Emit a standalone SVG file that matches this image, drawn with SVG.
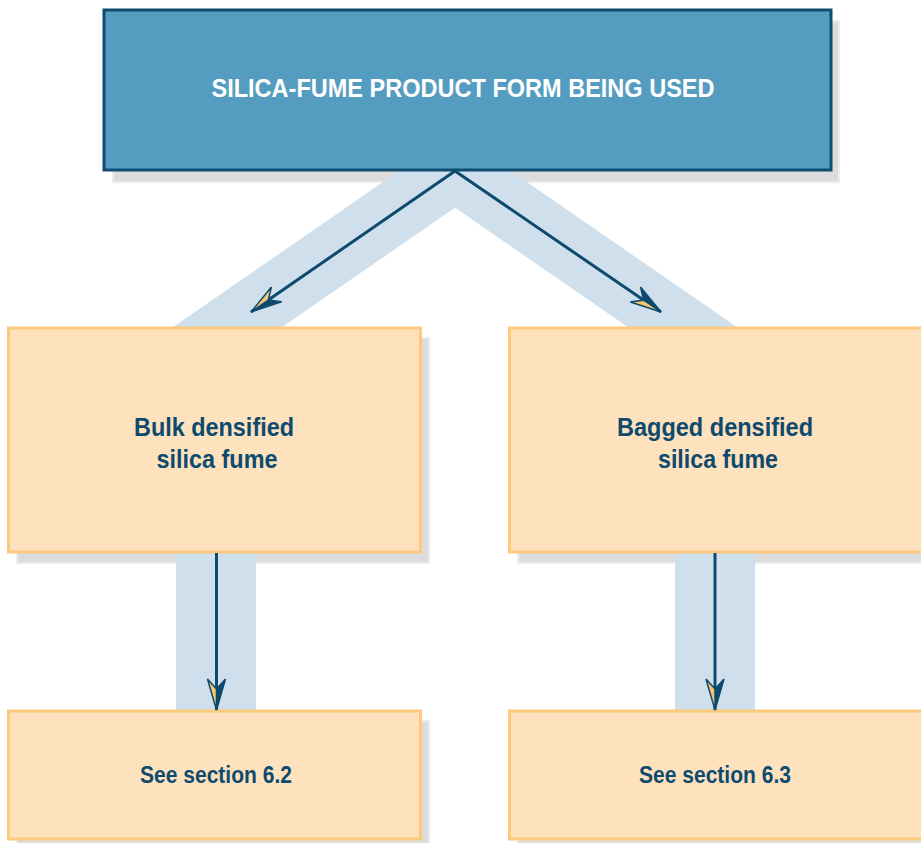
<svg xmlns="http://www.w3.org/2000/svg" width="921" height="843" viewBox="0 0 921 843">
<style>
.shadow{fill:#dcdcdc;stroke:#ececec;stroke-width:2}
.band{fill:none;stroke:#cfe0ec}
.top{fill:#549dc0;stroke:#0e4c70;stroke-width:3}
.box{fill:#fde2bd;stroke:#fdc97c;stroke-width:3}
.t{font-family:"Liberation Sans",Arial,sans-serif;font-weight:bold;text-anchor:middle;fill:#0e4a6e}
.arrow{fill:none;stroke:#0e4a6e;stroke-width:3;marker-end:url(#ah)}
</style>
<defs>
<marker id="ah" markerUnits="userSpaceOnUse" viewBox="-33 -11 35 22" refX="0" refY="0" markerWidth="35" markerHeight="22" orient="auto">
<path d="M0,0 L-31,-9 L-21,0 Z" fill="#0e4a6e" stroke="#0e4a6e" stroke-width="1.5" stroke-linejoin="miter"/>
<path d="M0,0 L-31,9 L-21,0 Z" fill="#f8c66e" stroke="#0e4a6e" stroke-width="1.5" stroke-linejoin="miter"/>
</marker>
</defs>
<rect width="921" height="843" fill="#ffffff"/>
<g id="shadows">
<rect class="shadow" x="113" y="21" width="726" height="161"/>
<rect class="shadow" x="17" y="338" width="412" height="225"/>
<rect class="shadow" x="518" y="338" width="412" height="225"/>
<rect class="shadow" x="17" y="721" width="412" height="128"/>
<rect class="shadow" x="518" y="721" width="412" height="128"/>
</g>
<g id="bands">
<polyline class="band" stroke-width="62" stroke-miterlimit="10" points="122,400 455,170 788,400"/>
<rect x="176" y="550" width="80" height="163" fill="#cfe0ec"/>
<rect x="675" y="550" width="80" height="163" fill="#cfe0ec"/>
</g>
<g id="node-top">
<rect class="top" x="104" y="10" width="727" height="160"/>
<text x="463" y="97" font-family="Liberation Sans, Arial, sans-serif" font-weight="bold" font-size="25" fill="#ffffff" text-anchor="middle" textLength="503" lengthAdjust="spacingAndGlyphs">SILICA-FUME PRODUCT FORM BEING USED</text>
</g>
<g id="node-bulk">
<rect class="box" x="8.5" y="328" width="412" height="224"/>
<text class="t" x="214" y="436" font-size="26" textLength="160" lengthAdjust="spacingAndGlyphs">Bulk densified</text>
<text class="t" x="217" y="468" font-size="26" textLength="121" lengthAdjust="spacingAndGlyphs">silica fume</text>
</g>
<g id="node-bagged">
<rect class="box" x="509.5" y="328" width="414" height="224"/>
<text class="t" x="715" y="436" font-size="26" textLength="196" lengthAdjust="spacingAndGlyphs">Bagged densified</text>
<text class="t" x="718" y="468" font-size="26" textLength="120" lengthAdjust="spacingAndGlyphs">silica fume</text>
</g>
<g id="node-62">
<rect class="box" x="8.5" y="711" width="412" height="128"/>
<text class="t" x="216" y="783" font-size="23" textLength="152" lengthAdjust="spacingAndGlyphs">See section 6.2</text>
</g>
<g id="node-63">
<rect class="box" x="509.5" y="711" width="414" height="128"/>
<text class="t" x="715" y="783" font-size="23" textLength="152" lengthAdjust="spacingAndGlyphs">See section 6.3</text>
</g>
<g id="connectors">
<line class="arrow" x1="455" y1="171" x2="251" y2="312"/>
<line class="arrow" x1="455" y1="171" x2="661" y2="312"/>
<line class="arrow" x1="216.5" y1="553" x2="216.5" y2="710"/>
<line class="arrow" x1="715" y1="553" x2="715" y2="710"/>
</g>
</svg>
